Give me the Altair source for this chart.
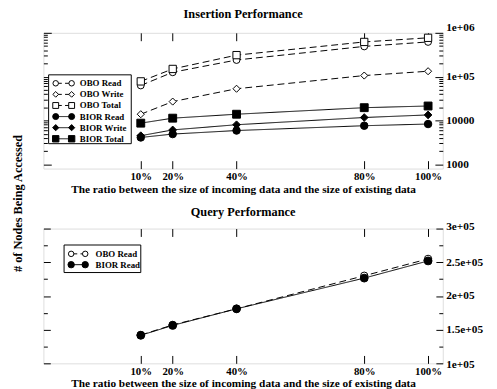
import altair as alt
import pandas as pd

FONT = "Liberation Serif"

# ---------------- data ----------------
pct = [10, 20, 40, 80, 100]
pct_labels = ["10%", "20%", "40%", "80%", "100%"]

ins_series = ["OBO Read", "OBO Write", "OBO Total", "BIOR Read", "BIOR Write", "BIOR Total"]
obo_read = [63000, 126000, 240000, 490000, 620000]
obo_write = [13900, 27000, 53000, 106000, 133000]
obo_total = [78000, 150000, 310000, 620000, 770000]
bior_read = [4100, 4900, 5900, 7600, 8300]
bior_write = [4500, 6100, 8000, 11700, 13400]
bior_total = [8700, 11300, 13900, 19600, 21400]

q_series = ["OBO Read", "BIOR Read"]
q_obo_read = [142000, 157000, 181000, 230000, 255000]
q_bior_read = [141600, 156300, 180900, 226500, 252000]

ins_ticks = [1000, 10000, 100000, 1000000]
ins_tick_labels = ["1000", "10000", "1e+05", "1e+06"]
q_ticks = [100000, 150000, 200000, 250000, 300000]
q_tick_labels = ["1e+05", "1.5e+05", "2e+05", "2.5e+05", "3e+05"]

XTITLE = "The ratio between the size of incoming data and the size of existing data"
YTITLE = "# of Nodes Being Accessed"

ins_df = pd.DataFrame(
    [
        {"pct": p, "val": v, "series": s}
        for s, vals in zip(ins_series, [obo_read, obo_write, obo_total, bior_read, bior_write, bior_total])
        for p, v in zip(pct, vals)
    ]
)
q_df = pd.DataFrame(
    [
        {"pct": p, "val": v, "series": s}
        for s, vals in zip(q_series, [q_obo_read, q_bior_read])
        for p, v in zip(pct, vals)
    ]
)

# minor tick positions (axis decoration)
log_minor = [k * 10 ** e for e in range(3, 6) for k in range(2, 10)]
lin_minor = [125000, 175000, 225000, 275000]


def label_expr(values, labels):
    expr = "''"
    for v, l in reversed(list(zip(values, labels))):
        expr = f"abs(datum.value - {v}) < 1 ? '{l}' : ({expr})"
    return expr


common_axis = dict(
    labelFont=FONT,
    labelFontSize=11,
    labelFontWeight="bold",
    labelColor="black",
    titleFont=FONT,
    titleFontSize=11.5,
    titleFontWeight="bold",
    titleColor="black",
    tickColor="black",
    tickWidth=1,
    domain=False,
    grid=False,
    labelFlush=False,
    labelOverlap=False,
)


def ax(orient, values, size, labels=None, title=None, **kw):
    args = dict(common_axis)
    args.update(kw)
    if labels is None:
        args["labels"] = False
    else:
        args["labelExpr"] = labels
    return alt.Axis(orient=orient, values=values, tickSize=size, offset=-size, title=title, **args)


pct_expr = label_expr(pct, pct_labels)


def legend_layers(series, shape_scale, fill_scale, box, rows, mx, lx, lsizes, ldash):
    leg_df = pd.DataFrame({"series": series})
    box_df = pd.DataFrame({"series": series[:1]})
    ly = alt.Y("series:O", scale=alt.Scale(type="point", domain=series, range=list(rows), padding=0), axis=None)
    frame = alt.Chart(box_df).mark_rect(fill="white", stroke="black", strokeWidth=1).encode(
        x=alt.value(box[0]), x2=alt.value(box[2]), y=alt.value(box[1]), y2=alt.value(box[3])
    )
    rule = alt.Chart(leg_df).mark_rule(color="black", strokeWidth=1).encode(
        x=alt.value(mx[0]), x2=alt.value(mx[1]), y=ly,
        strokeDash=alt.StrokeDash("series:N", scale=alt.Scale(domain=series, range=ldash), legend=None),
    )
    marks = []
    for xpos in mx:
        marks.append(
            alt.Chart(leg_df).mark_point(filled=True, stroke="black", strokeWidth=1, opacity=1).encode(
                x=alt.value(xpos), y=ly,
                shape=alt.Shape("series:N", scale=shape_scale, legend=None),
                fill=alt.Fill("series:N", scale=fill_scale, legend=None),
                size=alt.Size("series:N", scale=alt.Scale(domain=series, range=lsizes), legend=None),
            )
        )
    text = alt.Chart(leg_df).mark_text(
        align="left", baseline="middle", font=FONT, fontSize=9, fontWeight="bold", color="black"
    ).encode(x=alt.value(lx), y=ly, text="series:N")
    return [frame, rule] + marks + [text]


def panel(df, series, yscale, ymaj, ymaj_labels, yminor, shapes, sizes, dashes, fills, ttl,
          leg, maj, mnr, ytitle, end_offsets):
    xs = alt.Scale(domain=[-20.5, 104.6], nice=False, zero=False)
    yexpr = label_expr(ymaj, ymaj_labels)
    base = alt.Chart(df)
    fill_scale = alt.Scale(domain=series, range=fills)
    shape_scale = alt.Scale(domain=series, range=shapes)
    label_off = {"condition": [{"test": t, "value": v} for t, v in end_offsets], "value": 0}

    lines = base.mark_line(color="black", strokeWidth=1).encode(
        x=alt.X("pct:Q", scale=xs,
                axis=ax("bottom", pct, 8, labels=pct_expr, title=XTITLE, labelPadding=11.5,
                        labelBaseline="alphabetic", titleY=32, titleBaseline="alphabetic")),
        y=alt.Y("val:Q", scale=yscale, axis=ax("right", ymaj, maj, labels=yexpr, labelPadding=3,
                                                labelFontSize=11.5, labelBaseline="middle",
                                                labelOffset=label_off)),
        detail="series:N",
        strokeDash=alt.StrokeDash("series:N", scale=alt.Scale(domain=series, range=dashes), legend=None),
    )
    yleft_kw = {}
    if ytitle:
        yleft_kw = dict(titleX=-30, titleY=173, titleAngle=270, titleAlign="center",
                        titleBaseline="alphabetic", titleFontSize=12.5)
    points = base.mark_point(filled=True, stroke="black", strokeWidth=1, opacity=1).encode(
        x=alt.X("pct:Q", scale=xs, axis=ax("top", pct, 8)),
        y=alt.Y("val:Q", scale=yscale, axis=ax("left", ymaj, maj, title=YTITLE if ytitle else None, **yleft_kw)),
        shape=alt.Shape("series:N", scale=shape_scale, legend=None),
        size=alt.Size("series:N", scale=alt.Scale(domain=series, range=sizes), legend=None),
        fill=alt.Fill("series:N", scale=fill_scale, legend=None),
    )
    minor_r = base.mark_point(opacity=0).encode(
        x=alt.X("pct:Q", scale=xs, axis=None),
        y=alt.Y("val:Q", scale=yscale, axis=ax("right", yminor, mnr)),
    )
    minor_l = base.mark_point(opacity=0).encode(
        x=alt.X("pct:Q", scale=xs, axis=None),
        y=alt.Y("val:Q", scale=yscale, axis=ax("left", yminor, mnr)),
    )
    legend = legend_layers(series, shape_scale, fill_scale, **leg)
    return (
        alt.layer(lines, points, minor_r, minor_l, *legend)
        .resolve_axis(x="independent", y="independent")
        .resolve_scale(y="independent", size="independent", strokeDash="independent")
        .properties(
            width=406,
            height=ttl[1],
            title=alt.TitleParams(ttl[0], font=FONT, fontSize=12.5, fontWeight="bold", color="black",
                                  anchor="middle", frame="group", offset=2),
        )
    )


top = panel(
    ins_df, ins_series,
    alt.Scale(type="log", domain=[800, 1000000], nice=False),
    ins_ticks, ins_tick_labels, log_minor,
    ["circle", "diamond", "square", "circle", "diamond", "square"],
    [49, 64, 49, 64, 72, 56],
    [[7, 4], [7, 4], [7, 4], [1, 0], [1, 0], [1, 0]],
    ["white", "white", "white", "black", "black", "black"],
    ("Insertion Performance", 138),
    dict(box=(5.3, 42.7, 89.3, 112.7), rows=(51.3, 107.7), mx=(12.5, 28.7), lx=37,
         lsizes=[31, 42, 25, 42, 49, 36],
         ldash=[[6.2, 3.3], [6.2, 3.3], [6.2, 3.3], [1, 0], [1, 0], [1, 0]]),
    8, 4, True,
    [("datum.value >= 999999", -5)],
)

bottom = panel(
    q_df, q_series,
    alt.Scale(type="linear", domain=[100000, 300000], nice=False, zero=False),
    q_ticks, q_tick_labels, lin_minor,
    ["circle", "circle"],
    [56, 64],
    [[7, 4], [1, 0]],
    ["white", "black"],
    ("Query Performance", 137),
    dict(box=(21, 16.7, 99, 44.7), rows=(25.7, 36.7), mx=(28.2, 42.5), lx=53,
         lsizes=[31, 42],
         ldash=[[6.2, 3.3], [1, 0]]),
    7, 4, False,
    [("datum.value >= 299999", -2), ("datum.value <= 100001", 1)],
)

chart = (
    alt.vconcat(top, bottom, spacing=61, bounds="flush")
    .resolve_scale(fill="independent", shape="independent", size="independent", strokeDash="independent")
    .properties(padding={"left": 3, "top": -4, "right": 5, "bottom": 5})
    .configure_view(stroke="black", strokeWidth=1.5)
    .configure(background="white")
)

chart.save("out.html", embed_options={"renderer": "svg", "actions": False})
